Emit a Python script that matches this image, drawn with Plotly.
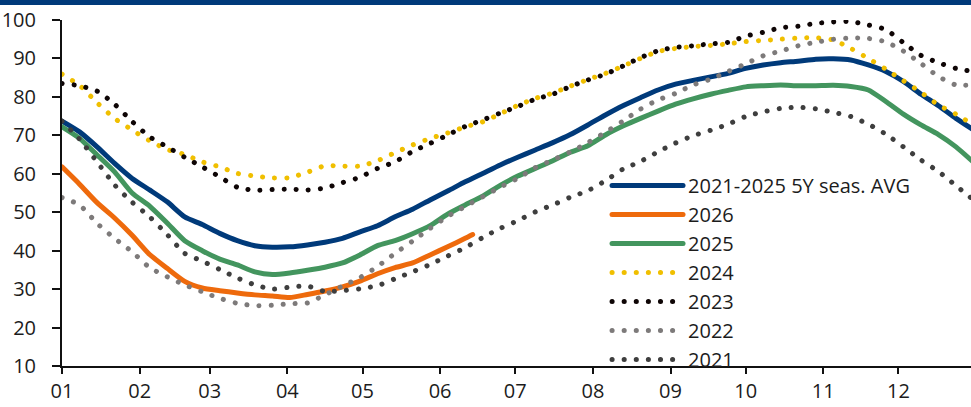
import plotly.graph_objects as go

# Day-of-year positions (weekly samples)
DAYS = list(range(0, 365, 7))

MONTH_START_DAYS = [0, 31, 59, 90, 120, 151, 181, 212, 243, 273, 304, 334]
MONTH_LABELS = ["01", "02", "03", "04", "05", "06", "07", "08", "09", "10", "11", "12"]

AVG_5Y = [73.7, 70.9, 67.0, 62.7, 58.8, 55.8, 52.7, 48.8, 46.8, 44.5, 42.6, 41.3, 40.9,
          41.0, 41.5, 42.2, 43.2, 44.9, 46.5, 48.8, 50.8, 53.2, 55.5, 57.9, 60.1, 62.3,
          64.3, 66.2, 68.1, 70.2, 72.7, 75.3, 77.7, 79.8, 81.8, 83.3, 84.3, 85.2, 86.1,
          87.4, 88.3, 88.9, 89.3, 89.8, 89.9, 89.6, 88.3, 86.6, 84.0, 80.7, 77.7, 74.4, 71.4]

DAYS_2026 = [0, 7, 14, 21, 28, 35, 42, 49, 56, 63, 70, 77, 84, 91, 98, 105, 112, 119,
             126, 133, 140, 147, 154, 161, 164]
Y2026 = [61.8, 57.3, 52.5, 48.5, 44.0, 39.0, 35.4, 32.0, 30.3, 29.6, 29.0, 28.5, 28.2,
         27.8, 28.6, 29.5, 30.6, 32.1, 34.0, 35.6, 36.8, 38.9, 41.0, 43.2, 44.2]

Y2025 = [72.2, 69.2, 64.9, 60.5, 55.0, 51.6, 47.2, 42.6, 40.0, 37.8, 36.3, 34.5, 33.8,
         34.2, 34.9, 35.7, 36.8, 38.9, 41.3, 42.6, 44.4, 46.5, 49.5, 51.9, 54.2, 57.0,
         59.4, 61.4, 63.4, 65.6, 67.3, 70.1, 72.4, 74.4, 76.3, 78.1, 79.5, 80.7, 81.7,
         82.6, 82.9, 83.1, 82.9, 82.9, 83.0, 82.7, 81.8, 78.8, 75.5, 72.7, 70.2, 67.0, 63.0]

Y2024 = [85.9, 83.0, 78.5, 74.4, 71.4, 68.6, 66.3, 65.0, 63.1, 61.8, 60.1, 59.4, 58.9,
         59.0, 60.4, 62.1, 62.0, 62.0, 63.4, 65.5, 67.5, 69.2, 70.6, 72.2, 73.5, 75.6,
         77.8, 79.6, 81.0, 82.8, 84.5, 86.1, 88.0, 90.0, 91.8, 92.6, 93.1, 93.4, 93.8,
         94.4, 94.7, 95.0, 95.3, 95.4, 94.8, 92.6, 90.0, 87.2, 84.2, 81.2, 77.9, 75.5, 72.7]

Y2023 = [83.5, 82.9, 81.5, 78.1, 73.6, 69.6, 67.0, 64.3, 61.8, 59.2, 56.5, 55.7, 55.9,
         56.0, 55.8, 56.3, 57.7, 59.1, 61.4, 63.1, 65.8, 67.9, 70.1, 72.3, 74.0, 75.8,
         77.5, 79.4, 80.7, 82.7, 84.4, 85.9, 88.0, 90.2, 92.0, 92.9, 93.3, 93.8, 94.2,
         95.8, 96.8, 98.0, 98.4, 99.1, 99.5, 99.6, 98.7, 97.5, 94.1, 90.8, 88.9, 87.4, 86.6]

Y2022 = [53.8, 51.9, 47.1, 43.2, 39.7, 35.6, 33.2, 31.1, 29.3, 27.6, 26.3, 25.7, 25.8,
         26.2, 26.4, 28.5, 30.8, 33.0, 35.9, 39.3, 42.5, 45.8, 48.9, 51.5, 54.0, 56.5,
         58.8, 61.6, 63.6, 65.7, 68.1, 70.8, 73.7, 76.8, 79.2, 80.9, 83.1, 84.6, 86.6,
         88.6, 90.7, 91.9, 93.3, 94.2, 95.0, 95.3, 95.2, 94.3, 91.9, 88.7, 85.3, 83.1, 83.1]

Y2021 = [73.7, 69.0, 63.1, 57.1, 52.6, 48.8, 44.2, 39.3, 37.3, 35.1, 32.9, 31.1, 30.0,
         30.5, 30.8, 29.4, 29.6, 30.1, 30.9, 32.7, 34.5, 36.4, 38.6, 40.8, 43.4, 45.8,
         47.8, 50.1, 51.9, 53.9, 55.6, 58.2, 61.2, 63.2, 65.7, 68.0, 69.9, 71.3, 72.9,
         74.9, 76.1, 77.0, 77.3, 76.9, 76.0, 74.9, 72.9, 70.3, 67.0, 63.6, 60.6, 56.9, 53.2]

Y_TICKS = [10, 20, 30, 40, 50, 60, 70, 80, 90, 100]

NAVY = "#003A7A"
FONT = "Open Sans"
TXT = "#1c1c1c"
DOT = "0.1px,12px"

series = [
    ("2021-2025 5Y seas. AVG", DAYS, AVG_5Y, NAVY, "solid"),
    ("2026", DAYS_2026, Y2026, "#EE6A0C", "solid"),
    ("2025", DAYS, Y2025, "#43955E", "solid"),
    ("2024", DAYS, Y2024, "#F0BF00", DOT),
    ("2023", DAYS, Y2023, "#0E0505", DOT),
    ("2022", DAYS, Y2022, "#7D7A7A", DOT),
    ("2021", DAYS, Y2021, "#3E3E3E", DOT),
]

fig = go.Figure()
for name, xs, ys, color, dash in series:
    fig.add_trace(go.Scatter(
        x=xs, y=ys, name=name, mode="lines",
        line=dict(color=color, width=5, dash=dash, shape="spline", smoothing=0.6),
        hoverinfo="skip",
    ))

fig.update_layout(
    width=971, height=407,
    margin=dict(l=62, r=0, t=20, b=41),
    paper_bgcolor="white", plot_bgcolor="white",
    font=dict(family=FONT, size=20, color=TXT),
    showlegend=True,
    legend=dict(
        x=0.5996, xanchor="left", y=0.578, yanchor="top",
        bgcolor="rgba(0,0,0,0)", borderwidth=0,
        itemwidth=71, font=dict(family=FONT, size=20, color=TXT),
        tracegroupgap=0,
    ),
    xaxis=dict(
        range=[0, 363], tickmode="array", tickvals=MONTH_START_DAYS, ticktext=MONTH_LABELS,
        showgrid=False, zeroline=False, showline=True, linecolor="#111", linewidth=2,
        ticks="outside", ticklen=6, tickwidth=2, tickcolor="#111",
    ),
    yaxis=dict(
        range=[10, 100], tickmode="array", tickvals=Y_TICKS,
        showgrid=False, zeroline=False, showline=True, linecolor="#111", linewidth=2,
        ticks="outside", ticklen=8, tickwidth=2, tickcolor="#111",
        ticklabelstandoff=12,
    ),
    shapes=[dict(type="rect", xref="paper", yref="paper",
                 x0=-0.1, x1=1.05, y0=(366 - 5) / 346, y1=1.2,
                 fillcolor=NAVY, line=dict(width=0), layer="above")],
)

post = """
document.documentElement.style.margin='0';
document.body.style.margin='0';
document.body.style.padding='0';
document.body.style.overflow='hidden';
var gd = document.getElementById('{plot_id}');
function rc(){
  gd.querySelectorAll('path.js-line').forEach(function(p){
    p.style.strokeLinecap='round'; p.style.strokeLinejoin='round';
  });
}
rc();
if (gd.on) { gd.on('plotly_afterplot', rc); }
"""

fig.write_html("out.html", post_script=post, config={"displayModeBar": False, "staticPlot": True})
